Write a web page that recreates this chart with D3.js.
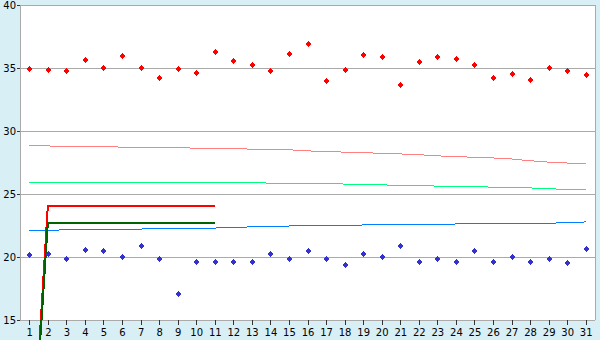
<!DOCTYPE html>
<html lang="en">
<head>
    <meta charset="UTF-8">
    <title>chart</title>
    <style>
        body{margin:0;}
        .axis text{
            font-family:"DejaVu Sans",Verdana,sans-serif;
            font-size:10px;
            fill:black;
        }
        .axis line{stroke:#333;shape-rendering:crispEdges;}
        .grid{stroke:#aaaaaa;shape-rendering:crispEdges;}
        .series{fill:none;shape-rendering:crispEdges;}
    </style>
    <script type="text/javascript" src="https://cdn.jsdelivr.net/npm/d3@7"></script>
</head>
<body>
    <script>
        var width = 600;
        var height = 340;
        var padding = {top:5,right:5,bottom:20,left:20};

        // data
        var days = d3.range(1, 32);
        var yTicks = [15, 20, 25, 30, 35, 40];

        var redPoints = [34.9, 34.82, 34.74, 35.61, 34.97, 35.93, 34.97, 34.18, 34.9, 34.6,
                         36.25, 35.53, 35.21, 34.74, 36.09, 36.88, 33.94, 34.82, 36.01, 35.85,
                         33.63, 35.45, 35.85, 35.69, 35.21, 34.18, 34.5, 34.02, 34.97, 34.74, 34.42];
        var bluePoints = [20.13, 20.21, 19.82, 20.53, 20.45, 19.98, 20.85, 19.82, 17.04, 19.58,
                          19.58, 19.58, 19.58, 20.21, 19.82, 20.45, 19.82, 19.34, 20.21, 20.0,
                          20.85, 19.58, 19.82, 19.58, 20.45, 19.58, 19.98, 19.58, 19.82, 19.5, 20.61];
        var pinkLine = [28.81, 28.81, 28.8, 28.79, 28.77, 28.72, 28.71, 28.7, 28.67, 28.64,
                        28.63, 28.6, 28.56, 28.55, 28.51, 28.42, 28.38, 28.32, 28.28, 28.23,
                        28.18, 28.12, 28.03, 27.96, 27.92, 27.86, 27.78, 27.64, 27.53, 27.46, 27.43];
        var greenLine = [25.88, 25.9, 25.92, 25.95, 25.95, 25.95, 25.95, 25.95, 25.94, 25.93,
                         25.92, 25.89, 25.88, 25.87, 25.86, 25.85, 25.83, 25.79, 25.74, 25.72,
                         25.7, 25.65, 25.63, 25.61, 25.57, 25.55, 25.54, 25.48, 25.43, 25.35, 25.32];
        var blueLine = [22.12, 22.13, 22.15, 22.17, 22.2, 22.21, 22.22, 22.24, 22.28, 22.29,
                        22.3, 22.32, 22.4, 22.45, 22.46, 22.47, 22.48, 22.52, 22.54, 22.55,
                        22.56, 22.57, 22.6, 22.62, 22.62, 22.63, 22.63, 22.64, 22.66, 22.75, 22.78];
        var redThick = [0, 24.05, 24.05, 24.05, 24.05, 24.05, 24.05, 24.05, 24.05, 24.05, 24.05];
        var greenThick = [0, 22.72, 22.72, 22.72, 22.72, 22.72, 22.72, 22.72, 22.72, 22.72, 22.72];

        var svg = d3.select("body")
                .append("svg")
                .attr("width",width)
                .attr("height",height)

        svg.append("rect")
                .attr("width",width)
                .attr("height",height)
                .attr("fill","#d9eff6")

        // scales
        var xScale = d3.scaleLinear()
                .domain([0.5, 31.5])
                .range([padding.left, width-padding.right])

        var yScale = d3.scaleLinear()
                .domain([15, 40])
                .range([height-padding.bottom, padding.top])

        // plot area
        svg.append("rect")
                .attr("x",xScale(0.5))
                .attr("y",yScale(40))
                .attr("width",xScale(31.5)-xScale(0.5))
                .attr("height",yScale(15)-yScale(40))
                .attr("fill","white")

        svg.selectAll(".grid")
                .data(yTicks)
                .enter()
                .append("line")
                .attr("class","grid")
                .attr("x1",xScale(0.5))
                .attr("x2",xScale(31.5))
                .attr("y1",function(d){return yScale(d);})
                .attr("y2",function(d){return yScale(d);})

        svg.append("line").attr("class","grid")
                .attr("x1",xScale(0.5)).attr("x2",xScale(0.5))
                .attr("y1",yScale(40)).attr("y2",yScale(15))
        svg.append("line").attr("class","grid")
                .attr("x1",xScale(31.5)).attr("x2",xScale(31.5))
                .attr("y1",yScale(40)).attr("y2",yScale(15))

        // axes
        var yAxis = d3.axisLeft(yScale)
                .tickValues(yTicks)
                .tickSize(3)
                .tickPadding(1)

        var xAxis = d3.axisBottom(xScale)
                .tickValues(days)
                .tickFormat(d3.format("d"))
                .tickSize(5)
                .tickPadding(4)

        svg.append("g")
                .attr("class","axis")
                .attr("transform","translate("+padding.left+",0)")
                .call(yAxis)
                .call(function(g){g.select(".domain").remove();})

        svg.append("g")
                .attr("class","axis")
                .attr("transform","translate(0,"+(height-padding.bottom)+")")
                .call(xAxis)
                .call(function(g){g.select(".domain").remove();})

        // lines
        var line = d3.line()
                .x(function(d,i){return xScale(i+1);})
                .y(function(d){return yScale(d);})

        var lineSeries = [
            {values:pinkLine, color:"#ff8080", w:1},
            {values:greenLine, color:"#00ff80", w:1},
            {values:blueLine, color:"#0080ff", w:1},
            {values:redThick, color:"#ff0000", w:2},
            {values:greenThick, color:"#006400", w:2}
        ];

        svg.selectAll(".series")
                .data(lineSeries)
                .enter()
                .append("path")
                .attr("class","series")
                .attr("d",function(d){return line(d.values);})
                .attr("stroke",function(d){return d.color;})
                .attr("stroke-width",function(d){return d.w;})

        // markers
        var diamond = {
            draw: function(ctx, size){
                var r = Math.sqrt(size/2);
                ctx.moveTo(0,-r);
                ctx.lineTo(r,0);
                ctx.lineTo(0,r);
                ctx.lineTo(-r,0);
                ctx.closePath();
            }
        };
        var symbol = d3.symbol().type(diamond).size(18);

        function drawPoints(values, color){
            svg.append("g")
                .selectAll("path")
                .data(values)
                .enter()
                .append("path")
                .attr("d",symbol)
                .attr("transform",function(d,i){return "translate("+Math.round(xScale(i+1))+","+Math.round(yScale(d))+")";})
                .attr("fill",color)
                .attr("shape-rendering","crispEdges")
        }
        drawPoints(redPoints, "#ff0000");
        drawPoints(bluePoints, "#3333cc");
    </script>
</body>
</html>
